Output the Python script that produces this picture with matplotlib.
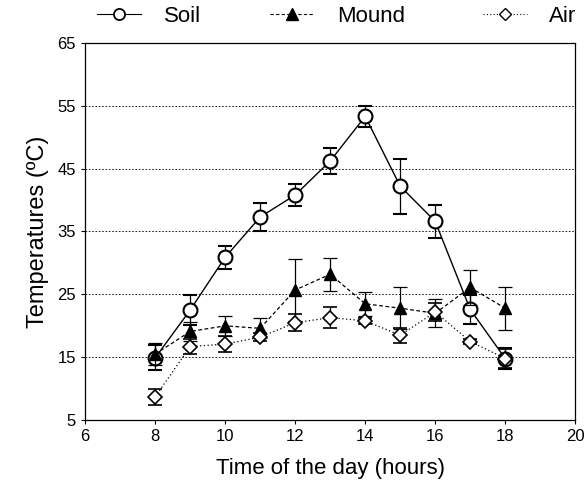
import matplotlib
matplotlib.use("Agg")
import matplotlib.pyplot as plt
from matplotlib.lines import Line2D

plt.rcParams['font.family'] = ['Liberation Sans', 'DejaVu Sans']

hours = [8, 9, 10, 11, 12, 13, 14, 15, 16, 17, 18]
soil = [14.9, 22.5, 30.9, 37.3, 40.8, 46.2, 53.3, 42.2, 36.6, 22.6, 14.8]
soil_err = [2.0, 2.4, 1.8, 2.2, 1.8, 2.0, 1.7, 4.4, 2.6, 2.3, 1.7]
mound = [15.5, 19.1, 20.0, 19.6, 25.7, 28.2, 23.5, 22.8, 22.0, 26.1, 22.8]
mound_err = [1.8, 1.5, 1.6, 1.6, 5.0, 2.6, 1.9, 3.3, 2.2, 2.8, 3.4]
air = [8.7, 16.7, 17.1, 18.2, 20.5, 21.3, 20.8, 18.5, 22.2, 17.5, 14.8]
air_err = [1.3, 1.2, 1.3, 0.6, 1.4, 1.7, 0.5, 1.2, 1.5, 0.4, 1.5]

x_ticks = [6, 8, 10, 12, 14, 16, 18, 20]
y_ticks = [5, 15, 25, 35, 45, 55, 65]

fig = plt.figure(figsize=(5.87, 4.92), dpi=100)
ax = fig.add_axes([0.145, 0.146, 0.835, 0.767])

for yv in y_ticks[1:-1]:
    ax.axhline(yv, color='black', linestyle=(0, (2, 2)), linewidth=0.6, zorder=0)

ax.errorbar(hours, soil, yerr=soil_err, color='black', linestyle='-', linewidth=1.0,
            marker='o', markersize=10, markerfacecolor='white', markeredgewidth=1.5,
            capsize=5, elinewidth=0.9, capthick=0.9, zorder=3)
ax.errorbar(hours, mound, yerr=mound_err, color='black', linestyle=(0, (3, 2)), linewidth=0.9,
            marker='^', markersize=9, markerfacecolor='black',
            capsize=5, elinewidth=0.9, capthick=0.9, zorder=4)
ax.errorbar(hours, air, yerr=air_err, color='black', linestyle=(0, (1, 2)), linewidth=0.9,
            marker='D', markersize=7, markerfacecolor='white', markeredgewidth=1.2,
            capsize=5, elinewidth=0.9, capthick=0.9, zorder=5)

ax.set_xlim(6, 20)
ax.set_ylim(5, 65)
ax.set_xticks(x_ticks)
ax.set_yticks(y_ticks)
ax.tick_params(axis='both', labelsize=12, length=3, direction='out')
for s in ax.spines.values():
    s.set_linewidth(0.9)

ax.set_xlabel('Time of the day (hours)', fontsize=16, labelpad=10)
ax.set_ylabel('Temperatures (ºC)', fontsize=17, labelpad=6)

handles = [
    Line2D([0], [0], color='black', linestyle='-', linewidth=0.8, marker='o', markersize=8,
           markerfacecolor='white', markeredgewidth=1.3),
    Line2D([0], [0], color='black', linestyle=(0, (3, 2)), linewidth=0.8, marker='^', markersize=8,
           markerfacecolor='black'),
    Line2D([0], [0], color='black', linestyle=(0, (1, 2)), linewidth=0.8, marker='D', markersize=6,
           markerfacecolor='white', markeredgewidth=1.0),
]
labels = ['Soil', 'Mound', 'Air']
leg_x = [0.165, 0.46, 0.822]
for h, lab, lx in zip(handles, labels, leg_x):
    fig.legend([h], [lab], loc='center left', bbox_to_anchor=(lx, 0.966),
               frameon=False, fontsize=16, handlelength=2.0, handletextpad=1.0,
               borderaxespad=0, borderpad=0)

fig.savefig('out.png', dpi=100)
